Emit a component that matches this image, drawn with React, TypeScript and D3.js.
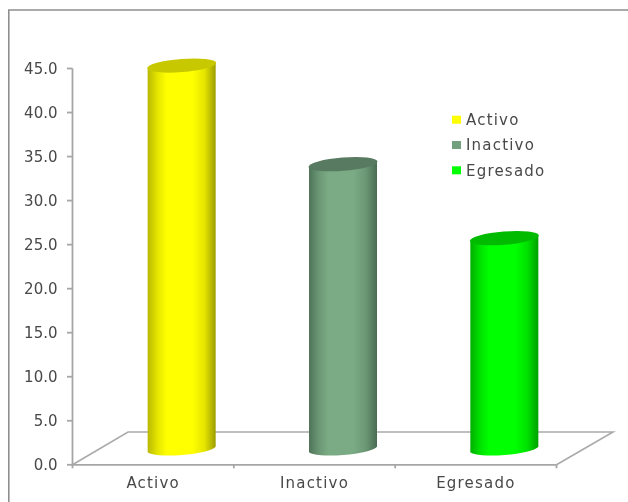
import React from "react";
import * as d3 from "d3";

const categories = ["Activo", "Inactivo", "Egresado"];
const values = [43.6, 32.4, 24.0];
const yTicks = [0, 5, 10, 15, 20, 25, 30, 35, 40, 45];
const leftDark = ["#b8b800", "#4f7358", "#00b000"];
const rightDark = ["#9c9c00", "#4a6b52", "#00a000"];
const sideMid = ["#e4e400", "#6a9674", "#00e000"];
const sideLight = ["#ffff00", "#7aab84", "#00ff00"];
const topFill = ["#c8c800", "#587a60", "#00bb00"];
const legendFill = ["#ffff00", "#72a07c", "#00ff00"];

const FONT = "'DejaVu Sans',sans-serif";

export default function App() {
  const y = d3.scaleLinear().domain([0, 45]).range([464.8, 68.5]);
  const x = d3.scaleBand().domain(categories).range([72.5, 556.5]);
  const halfW = 34;
  const rx = 34.6;
  const ry = 6.6;
  const tilt = -4.5;
  const base = 449.5;
  const depth = 28.5;
  const unit = y(0) - y(1);
  const ticksX = [72.5, x("Inactivo")!, x("Egresado")!, 556.5];
  return (
    <svg width={628} height={502} style={{ position: "absolute", left: 0, top: 0, background: "#fff" }}>
      <defs>
        <filter id="soft" x="-5%" y="-5%" width="110%" height="110%">
          <feGaussianBlur stdDeviation="0.5" />
        </filter>
        {categories.map((c, i) => (
          <linearGradient id={"g" + i} key={c} x1="0" x2="1" y1="0" y2="0">
            <stop offset="0" stopColor={leftDark[i]} />
            <stop offset="0.14" stopColor={sideMid[i]} />
            <stop offset="0.28" stopColor={sideLight[i]} />
            <stop offset="0.66" stopColor={sideLight[i]} />
            <stop offset="0.84" stopColor={sideMid[i]} />
            <stop offset="1" stopColor={rightDark[i]} />
          </linearGradient>
        ))}
      </defs>
      <path d="M628,10H8.8V502" fill="none" stroke="#8f8f8f" strokeWidth={1.6} />
      <g fill="none" stroke="#aaaaaa" strokeWidth={1.6}>
        <path d={`M${x.range()[0]},${y(0)}L128,432H613L${x.range()[1]},${y(0)}`} />
      </g>
      <g fill="none" stroke="#a6a6a6" strokeWidth={1.8}>
        <path d={`M72.5,${y(45)}V${y(0)}H556.5`} />
        {yTicks.map((t) => (
          <path key={t} d={`M67,${y(t)}H72.5`} />
        ))}
        {ticksX.map((t) => (
          <path key={t} d={`M${t},${y(0)}v3.5`} />
        ))}
      </g>
      <g filter="url(#soft)">
        {categories.map((c, i) => {
          const cx = x(c)! + x.bandwidth() / 2 + depth;
          const top = base - values[i] * unit;
          const l = cx - halfW;
          const r = cx + halfW;
          const dy = halfW * Math.tan((tilt * Math.PI) / 180);
          return (
            <g key={c}>
              <path
                d={`M${l},${top - dy}L${r},${top + dy}L${r},${base + dy}A${rx},${ry} ${tilt} 0 1 ${l},${base - dy}Z`}
                fill={`url(#g${i})`}
              />
              <ellipse
                cx={cx}
                cy={top}
                rx={rx}
                ry={ry}
                transform={`rotate(${tilt} ${cx} ${top})`}
                fill={topFill[i]}
              />
            </g>
          );
        })}
      </g>
      <g filter="url(#soft)">
        <g fontFamily={FONT} fontSize={15} fill="#484848">
          {yTicks.map((t) => (
            <text key={t} x={57.5} y={y(t) + 5.5} textAnchor="end">
              {t.toFixed(1)}
            </text>
          ))}
          <g style={{ letterSpacing: "1.2px" }}>
            {categories.map((c) => (
              <text key={c} x={x(c)! + x.bandwidth() / 2} y={488} textAnchor="middle">
                {c}
              </text>
            ))}
            {categories.map((c, i) => (
              <g key={c}>
                <rect x={452} y={115.7 + i * 25.3} width={9} height={8} fill={legendFill[i]} />
                <text x={466} y={125 + i * 25.3}>
                  {c}
                </text>
              </g>
            ))}
          </g>
        </g>
      </g>
    </svg>
  );
}
